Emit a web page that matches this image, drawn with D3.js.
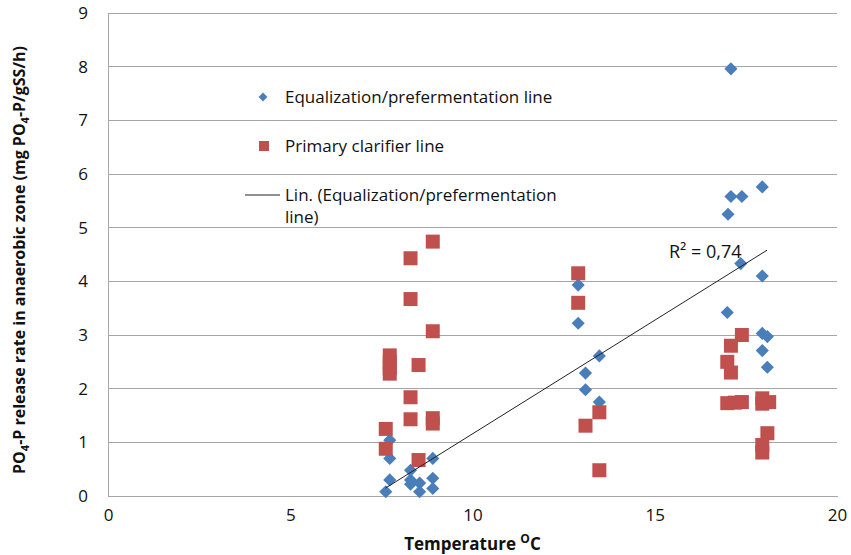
<!DOCTYPE html>
<html>
<head>
<meta charset="utf-8">
<script src="https://cdn.jsdelivr.net/npm/d3@7"></script>
<style>
  body { margin: 0; background: #fff; }
  text { font-family: "Open Sans", "Noto Sans", sans-serif; fill: #111; }
</style>
</head>
<body>
<script>
// equalization/prefermentation line (blue diamonds)
const eqTemp = [7.62, 7.73, 7.73, 7.73, 8.30, 8.30, 8.30, 8.55, 8.55, 8.91, 8.91, 8.91,
                12.90, 12.90, 13.48, 13.10, 13.10, 13.48,
                17.09, 17.09, 17.39, 17.95, 17.01, 17.36, 17.95, 16.99, 17.95, 18.09, 17.95, 18.09]
const eqRate = [0.08, 0.30, 0.70, 1.04, 0.48, 0.30, 0.22, 0.24, 0.08, 0.70, 0.33, 0.14,
                3.93, 3.22, 2.61, 2.29, 1.98, 1.75,
                7.96, 5.58, 5.58, 5.76, 5.25, 4.33, 4.10, 3.42, 3.03, 2.97, 2.71, 2.40]

// primary clarifier line (red squares)
const pcTemp = [8.91, 8.30, 8.30, 8.91, 7.73, 7.73, 7.73, 7.73, 8.52, 8.30, 8.30, 8.91, 8.91, 7.62, 7.62, 8.52,
                12.90, 12.90, 13.48, 13.10, 13.48,
                17.39, 17.09, 16.99, 17.09, 16.99, 17.20, 17.39, 17.95, 17.95, 18.14, 18.09, 17.95, 17.95]
const pcRate = [4.74, 4.43, 3.67, 3.07, 2.62, 2.50, 2.38, 2.28, 2.44, 1.84, 1.43, 1.45, 1.35, 1.25, 0.88, 0.67,
                4.15, 3.60, 1.56, 1.31, 0.48,
                3.00, 2.80, 2.50, 2.30, 1.73, 1.74, 1.75, 1.82, 1.72, 1.75, 1.17, 0.95, 0.81]

// linear trend of the blue series, endpoints as drawn
const trendX = [7.62, 18.08]
const trendY = [0.15, 4.58]
const r2Label = "R² = 0,74"

const xTicks = [0, 5, 10, 15, 20]
const yTicks = [0, 1, 2, 3, 4, 5, 6, 7, 8, 9]

const width = 851, height = 555
const margin = {top: 13, right: 14, bottom: 59, left: 108}

const blue = "#4a7ebb", red = "#c0504d", grid = "#a6a6a6"

const svg = d3.select("body").append("svg")
  .attr("width", width)
  .attr("height", height)

const x = d3.scaleLinear().domain([0, 20]).range([margin.left, width - margin.right])
const y = d3.scaleLinear().domain([0, 9]).range([height - margin.bottom, margin.top])

// gridlines
svg.append("g")
  .selectAll("line")
  .data(yTicks.slice(1))
  .enter().append("line")
  .attr("x1", x(0)).attr("x2", x(20))
  .attr("y1", d => y(d)).attr("y2", d => y(d))
  .attr("stroke", grid).attr("stroke-width", 1)
  .attr("shape-rendering", "crispEdges")

// axes
const xAxis = d3.axisBottom(x).tickValues(xTicks).tickSize(0).tickPadding(12)
const yAxis = d3.axisLeft(y).tickValues(yTicks).tickSize(0).tickPadding(20)

const gx = svg.append("g")
  .attr("transform", "translate(0," + y(0) + ")")
  .call(xAxis)
const gy = svg.append("g")
  .attr("transform", "translate(" + x(0) + ",0)")
  .call(yAxis)

gx.select(".domain").attr("stroke", grid).attr("shape-rendering", "crispEdges")
gy.select(".domain").attr("stroke", grid).attr("shape-rendering", "crispEdges")
svg.selectAll(".tick text")
  .style("font-family", '"Open Sans", sans-serif')
  .style("font-size", "17px")
  .attr("fill", "#111")
gx.selectAll(".tick text").attr("dy", "0.75em")

// axis titles
const xt = svg.append("text")
  .attr("x", (x(0) + x(20)) / 2)
  .attr("y", 550)
  .attr("text-anchor", "middle")
  .style("font-size", "17px")
  .style("font-weight", "bold")
xt.append("tspan").text("Temperature ")
xt.append("tspan").text("O").attr("dy", -7).style("font-size", "12px")
xt.append("tspan").text("C").attr("dy", 7)

const yt = svg.append("text")
  .attr("transform", "translate(25,260) rotate(-90)")
  .attr("text-anchor", "middle")
  .style("font-size", "16px")
  .style("font-weight", "bold")
yt.append("tspan").text("PO")
yt.append("tspan").text("4").attr("dy", 4).style("font-size", "11px")
yt.append("tspan").text("-P release rate in anaerobic zone (mg PO").attr("dy", -4)
yt.append("tspan").text("4").attr("dy", 4).style("font-size", "11px")
yt.append("tspan").text("-P/gSS/h)").attr("dy", -4)

// data
const eqData = eqTemp.map((t, i) => ({t: t, v: eqRate[i]}))
const pcData = pcTemp.map((t, i) => ({t: t, v: pcRate[i]}))

const diamond = d3.symbol().type(d3.symbolDiamond2).size(110)

svg.append("g")
  .selectAll("path")
  .data(eqData)
  .enter().append("path")
  .attr("d", diamond)
  .attr("transform", d => "translate(" + x(d.t) + "," + y(d.v) + ")")
  .attr("fill", blue)

const sq = 14
svg.append("g")
  .selectAll("rect")
  .data(pcData)
  .enter().append("rect")
  .attr("x", d => x(d.t) - sq / 2)
  .attr("y", d => y(d.v) - sq / 2)
  .attr("width", sq).attr("height", sq)
  .attr("fill", red)

// trendline
svg.append("line")
  .attr("x1", x(trendX[0])).attr("y1", y(trendY[0]))
  .attr("x2", x(trendX[1])).attr("y2", y(trendY[1]))
  .attr("stroke", "#222").attr("stroke-width", 1)

svg.append("text")
  .attr("x", 669).attr("y", 258)
  .style("font-size", "18px")
  .text(r2Label)

// legend
const legend = svg.append("g")
legend.append("path")
  .attr("d", d3.symbol().type(d3.symbolDiamond2).size(50))
  .attr("transform", "translate(263,97)")
  .attr("fill", blue)
legend.append("rect")
  .attr("x", 259).attr("y", 141).attr("width", 10).attr("height", 10)
  .attr("fill", red)
legend.append("line")
  .attr("x1", 245).attr("x2", 280).attr("y1", 195).attr("y2", 195)
  .attr("stroke", "#222")

const legendText = [
  ["Equalization/prefermentation line", 97],
  ["Primary clarifier line", 146],
  ["Lin. (Equalization/prefermentation", 195],
  ["line)", 217]
]
legend.selectAll("text.lg")
  .data(legendText)
  .enter().append("text")
  .attr("class", "lg")
  .attr("x", 285)
  .attr("y", d => d[1])
  .attr("dy", "0.35em")
  .style("font-size", "17px")
  .text(d => d[0])
</script>
</body>
</html>
